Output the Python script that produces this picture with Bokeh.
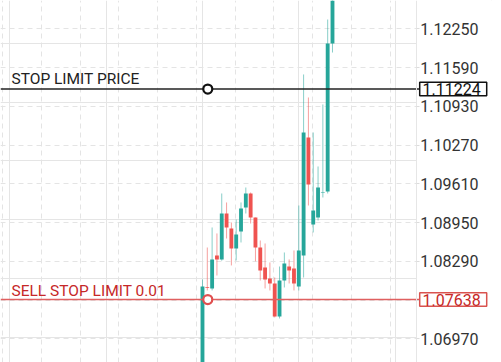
from bokeh.plotting import figure
from bokeh.models import (ColumnDataSource, Range1d, FixedTicker, PrintfTickFormatter,
                          Label, Grid, LinearAxis, BoxAnnotation)
from bokeh.embed import file_html
from bokeh.resources import INLINE

# ---- data ----
opens = [1.0630, 1.07850, 1.07827, 1.08389, 1.08321, 1.09104, 1.08849, 1.08508,
         1.08798, 1.09206, 1.09445, 1.09036, 1.08525, 1.08184, 1.07997, 1.07912,
         1.07350, 1.07963, 1.08201, 1.08167, 1.07861, 1.08389, 1.10399, 1.08917,
         1.09036, 1.09462, 1.09479, 1.12000]
closes = [1.07861, 1.07840, 1.08321, 1.08321, 1.09104, 1.08866, 1.08508, 1.08746,
          1.09189, 1.09445, 1.09036, 1.08525, 1.08133, 1.07980, 1.07912, 1.07350,
          1.07963, 1.08253, 1.08133, 1.07912, 1.08474, 1.10484, 1.09598, 1.09155,
          1.09547, 1.09470, 1.12000, 1.12900]
highs = [1.07980, 1.08525, 1.08866, 1.08764, 1.09445, 1.09292, 1.08951, 1.09002,
         1.09292, 1.09547, 1.09462, 1.09036, 1.08644, 1.08593, 1.08270, 1.08014,
         1.08201, 1.08440, 1.08321, 1.08474, 1.09240, 1.11472, 1.11080, 1.10484,
         1.09905, 1.10961, 1.12408, 1.13000]
lows = [1.06200, 1.07793, 1.07793, 1.08048, 1.08300, 1.08678, 1.08219, 1.08304,
        1.08610, 1.09104, 1.08934, 1.08290, 1.07963, 1.07827, 1.07793, 1.07333,
        1.07316, 1.07844, 1.07912, 1.07793, 1.07793, 1.08014, 1.09240, 1.08781,
        1.08985, 1.09377, 1.09445, 1.11846]

y_ticks = [1.06970, 1.07630, 1.08290, 1.08950, 1.09610, 1.10270, 1.10930, 1.11590, 1.12250]
stop_limit_price = 1.11224
sell_stop_price = 1.07638
stop_text = "STOP LIMIT PRICE"
sell_text = "SELL STOP LIMIT 0.01"
marker_idx = 1.1

GREEN = "#26a69a"
RED = "#ef5350"

# ---- layout constants (pixels) ----
W, H = 501, 362
PPU = 4.815            # pixels per candle slot
AXIS_PX = 416          # x pixel of the price axis
x_start = -41.95
x_end = x_start + W / PPU
axis_x = x_start + AXIS_PX / PPU
box_left = axis_x + 3.3 / PPU
box_cx = axis_x + 36.7 / PPU

idx = list(range(len(opens)))
up = [i for i in idx if closes[i] >= opens[i]]
dn = [i for i in idx if closes[i] < opens[i]]

def src(ids):
    return ColumnDataSource(dict(
        x=ids,
        top=[max(opens[i], closes[i]) for i in ids],
        bottom=[min(opens[i], closes[i]) for i in ids],
        high=[highs[i] for i in ids],
        low=[lows[i] for i in ids],
    ))

s_up, s_dn = src(up), src(dn)

p = figure(width=W, height=H, output_backend="svg", toolbar_location=None,
           x_axis_location=None, y_axis_location=None,
           x_range=Range1d(x_start, x_end), y_range=Range1d(1.06566, 1.12732),
           min_border=0)
p.outline_line_color = None
p.background_fill_color = "white"
p.border_fill_color = "white"

yticker = FixedTicker(ticks=y_ticks)
p.add_layout(Grid(dimension=1, ticker=yticker, grid_line_color="#e4e4e4", grid_line_dash="5 4"))
p.add_layout(Grid(dimension=0, ticker=FixedTicker(ticks=[-1.25 + 8.05 * k for k in range(-6, 6)]),
                  grid_line_color="#e4e4e4", grid_line_dash="5 4"))
# blank price-scale area to the right of the axis
p.add_layout(BoxAnnotation(left=axis_x, fill_color="white", fill_alpha=1.0,
                           line_color=None, level="underlay"))

# price axis, drawn at a fixed x with labels to its right
ax = LinearAxis(ticker=yticker, formatter=PrintfTickFormatter(format="%.5f"),
                fixed_location=axis_x)
ax.axis_line_color = "#e6e6e6"
ax.major_tick_line_color = "#dcdcdc"
ax.major_tick_out = 0
ax.major_tick_in = 3
ax.minor_tick_line_color = None
ax.major_label_standoff = -62
ax.major_label_text_font = "Roboto"
ax.major_label_text_font_size = "16px"
ax.major_label_text_color = "#333333"
p.add_layout(ax, "left")

# candles
for s, c in ((s_up, GREEN), (s_dn, RED)):
    p.segment(x0="x", x1="x", y0="low", y1="high", source=s, line_color=c,
              line_alpha=0.55, line_width=1)
    p.vbar(x="x", width=0.8, top="top", bottom="bottom", source=s,
           fill_color=c, line_color=None)

# order lines
p.segment(x0=[x_start], x1=[box_left], y0=[stop_limit_price], y1=[stop_limit_price],
          line_color="#222222", line_width=1.5)
p.segment(x0=[x_start], x1=[box_left], y0=[sell_stop_price], y1=[sell_stop_price],
          line_color="#e06060", line_width=1.5)

p.scatter([marker_idx], [stop_limit_price], size=9, marker="circle", fill_color="white",
          line_color="#111111", line_width=2.2)
p.scatter([marker_idx], [sell_stop_price], size=9, marker="circle", fill_color="white",
          line_color="#e05050", line_width=2.2)

p.add_layout(Label(x=x_start, y=stop_limit_price, x_offset=11, y_offset=9.8, text=stop_text,
                   text_font="Roboto", text_font_size="15.5px", text_color="#222222",
                   text_baseline="middle"))
p.add_layout(Label(x=x_start, y=sell_stop_price, x_offset=11, y_offset=8.8, text=sell_text,
                   text_font="Roboto", text_font_size="15.5px", text_color="#c62828",
                   text_baseline="middle"))

# price boxes on the scale (drawn above the axis labels)
p.rect(x=[box_cx, box_cx], y=[stop_limit_price, sell_stop_price], width=67, height=13.5,
       width_units="screen", height_units="screen", fill_color="white",
       line_color=["#111111", "#d9534f"], line_width=1.5, level="overlay")
p.add_layout(Label(x=axis_x, y=stop_limit_price, x_offset=6, text="%.5f" % stop_limit_price,
                   text_font="Roboto", text_font_size="16px", text_color="#111111",
                   text_baseline="middle", level="overlay"))
p.add_layout(Label(x=axis_x, y=sell_stop_price, x_offset=6, text="%.5f" % sell_stop_price,
                   text_font="Roboto", text_font_size="16px", text_color="#c62828",
                   text_baseline="middle", level="overlay"))

open("out.html", "w").write(file_html(p, INLINE))
